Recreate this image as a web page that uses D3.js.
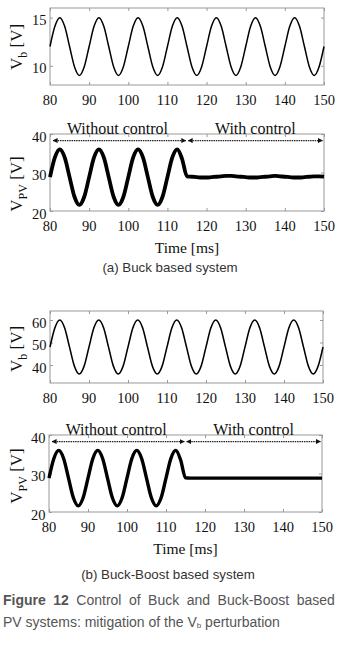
<!DOCTYPE html>
<html>
<head>
<meta charset="utf-8">
<script src="https://cdn.jsdelivr.net/npm/d3@7"></script>
<style>
  body { margin: 0; background: #fff; }
  svg { display: block; }
</style>
</head>
<body>
<div id="container"></div>
<script>
// time axis samples [ms]
const time = [
  80, 81.25, 82.5, 83.75, 85, 86.25, 87.5, 88.75,
  90, 91.25, 92.5, 93.75, 95, 96.25, 97.5, 98.75,
  100, 101.25, 102.5, 103.75, 105, 106.25, 107.5, 108.75,
  110, 111.25, 112.5, 113.75, 115, 116.25, 117.5, 118.75,
  120, 121.25, 122.5, 123.75, 125, 126.25, 127.5, 128.75,
  130, 131.25, 132.5, 133.75, 135, 136.25, 137.5, 138.75,
  140, 141.25, 142.5, 143.75, 145, 146.25, 147.5, 148.75,
  150
];

// (a) Buck: battery voltage Vb [V]
const vbBuck = [
  12, 14.1, 15, 14.1, 12, 9.9, 9, 9.9,
  12, 14.1, 15, 14.1, 12, 9.9, 9, 9.9,
  12, 14.1, 15, 14.1, 12, 9.9, 9, 9.9,
  12, 14.1, 15, 14.1, 12, 9.9, 9, 9.9,
  12, 14.1, 15, 14.1, 12, 9.9, 9, 9.9,
  12, 14.1, 15, 14.1, 12, 9.9, 9, 9.9,
  12, 14.1, 15, 14.1, 12, 9.9, 9, 9.9,
  12
];

// (a) Buck: PV voltage Vpv [V]
const vpvBuck = [
  28.8, 33.9, 36, 33.9, 28.8, 23.7, 21.6, 23.7,
  28.8, 33.9, 36, 33.9, 28.8, 23.7, 21.6, 23.7,
  28.8, 33.9, 36, 33.9, 28.8, 23.7, 21.6, 23.7,
  28.8, 33.9, 36, 33.5, 29.0, 28.9, 28.8, 28.7,
  28.7, 28.8, 28.9, 29.0, 29.1, 29.1, 29.0, 28.9,
  28.8, 28.7, 28.7, 28.8, 28.9, 29.0, 29.1, 29.0,
  28.9, 28.8, 28.7, 28.7, 28.8, 28.9, 29.0, 29.0,
  28.9
];

// (b) Buck-Boost: battery voltage Vb [V]
const vbBuckBoost = [
  48, 56.5, 60, 56.5, 48, 39.5, 36, 39.5,
  48, 56.5, 60, 56.5, 48, 39.5, 36, 39.5,
  48, 56.5, 60, 56.5, 48, 39.5, 36, 39.5,
  48, 56.5, 60, 56.5, 48, 39.5, 36, 39.5,
  48, 56.5, 60, 56.5, 48, 39.5, 36, 39.5,
  48, 56.5, 60, 56.5, 48, 39.5, 36, 39.5,
  48, 56.5, 60, 56.5, 48, 39.5, 36, 39.5,
  48
];

// (b) Buck-Boost: PV voltage Vpv [V]
const vpvBuckBoost = [
  28.8, 33.9, 36, 33.9, 28.8, 23.7, 21.6, 23.7,
  28.8, 33.9, 36, 33.9, 28.8, 23.7, 21.6, 23.7,
  28.8, 33.9, 36, 33.9, 28.8, 23.7, 21.6, 23.7,
  28.8, 33.9, 36, 33.5, 28.9, 28.8, 28.8, 28.8,
  28.8, 28.8, 28.8, 28.8, 28.8, 28.8, 28.8, 28.8,
  28.8, 28.8, 28.8, 28.8, 28.8, 28.8, 28.8, 28.8,
  28.8, 28.8, 28.8, 28.8, 28.8, 28.8, 28.8, 28.8,
  28.8
];

const xTicks = [80, 90, 100, 110, 120, 130, 140, 150];
const vbBuckTicks = [10, 15];
const vbBuckBoostTicks = [40, 50, 60];
const vpvTicks = [20, 30, 40];
const modeLabels = ["Without control", "With control"];
const modeSpans = [[80.8, 114.7], [115.3, 149.6]];

const width = 339;
const height = 648;
const serif = "'Liberation Serif', 'Times New Roman', serif";
const sans = "'Liberation Sans', Arial, sans-serif";

const svg = d3.create("svg")
  .attr("width", width)
  .attr("height", height);

const defs = svg.append("defs");
defs.append("marker")
  .attr("id", "arrow")
  .attr("viewBox", "0 0 10 10")
  .attr("refX", 9).attr("refY", 5)
  .attr("markerWidth", 5).attr("markerHeight", 5)
  .attr("markerUnits", "userSpaceOnUse")
  .attr("orient", "auto-start-reverse")
  .append("path")
  .attr("d", "M0,0L10,5L0,10z")
  .attr("fill", "#111");

function drawPanel(p) {
  const x = d3.scaleLinear().domain([80, 150]).range([p.left, p.right]);
  const y = d3.scaleLinear().domain(p.yDomain).range([p.bottom, p.top]);
  const g = svg.append("g");

  // inward ticks on all sides (matlab box style)
  const tl = 3;
  const tickCol = "#999";
  g.append("g").attr("transform", `translate(0,${p.bottom})`)
    .call(d3.axisTop(x).tickValues(xTicks).tickSize(tl).tickFormat(""))
    .call(a => a.select(".domain").remove())
    .selectAll("line").attr("stroke", tickCol);
  g.append("g").attr("transform", `translate(0,${p.top})`)
    .call(d3.axisBottom(x).tickValues(xTicks).tickSize(tl).tickFormat(""))
    .call(a => a.select(".domain").remove())
    .selectAll("line").attr("stroke", tickCol);
  g.append("g").attr("transform", `translate(${p.left},0)`)
    .call(d3.axisRight(y).tickValues(p.yTicks).tickSize(tl).tickFormat(""))
    .call(a => a.select(".domain").remove())
    .selectAll("line").attr("stroke", tickCol);
  g.append("g").attr("transform", `translate(${p.right},0)`)
    .call(d3.axisLeft(y).tickValues(p.yTicks).tickSize(tl).tickFormat(""))
    .call(a => a.select(".domain").remove())
    .selectAll("line").attr("stroke", tickCol);

  g.append("rect")
    .attr("x", p.left).attr("y", p.top)
    .attr("width", p.right - p.left).attr("height", p.bottom - p.top)
    .attr("fill", "none").attr("stroke", "#999").attr("stroke-width", 1);

  // tick labels
  g.selectAll(".xl").data(xTicks).join("text")
    .attr("x", d => x(d)).attr("y", p.bottom + 15)
    .attr("text-anchor", "middle").attr("dominant-baseline", "central")
    .attr("font-family", serif).attr("font-size", 14.5).attr("fill", "#111")
    .text(d => d);
  g.selectAll(".yl").data(p.yTicks).join("text")
    .attr("x", p.left - 3.5).attr("y", d => y(d) + 2.5)
    .attr("text-anchor", "end").attr("dominant-baseline", "central")
    .attr("font-family", serif).attr("font-size", 14.5).attr("fill", "#111")
    .text(d => d);

  // y label
  const yl = g.append("text")
    .attr("transform", `translate(22,${p.labelY}) rotate(-90)`)
    .attr("text-anchor", "middle")
    .attr("font-family", serif).attr("font-size", 17).attr("fill", "#111");
  yl.append("tspan").text("V");
  yl.append("tspan").attr("dy", 4.5).attr("font-size", 12).text(p.sub);
  yl.append("tspan").attr("dy", -4.5).text(" [V]");

  // signal
  const line = d3.line()
    .x((d, i) => x(time[i]))
    .y(d => y(d))
    .curve(d3.curveMonotoneX);
  g.append("path")
    .datum(p.values)
    .attr("d", line)
    .attr("fill", "none")
    .attr("stroke", "#000")
    .attr("stroke-width", p.lineWidth)
    .attr("stroke-linejoin", "round");

  if (p.modes) {
    g.selectAll(".ma").data(modeSpans).join("line")
      .attr("x1", d => x(d[0])).attr("x2", d => x(d[1]))
      .attr("y1", y(38.3)).attr("y2", y(38.3))
      .attr("stroke", "#222").attr("stroke-width", 1.3)
      .attr("stroke-dasharray", "1.5,0.8")
      .attr("marker-start", "url(#arrow)")
      .attr("marker-end", "url(#arrow)");
    g.selectAll(".mt").data(modeLabels).join("text")
      .attr("x", (d, i) => x((modeSpans[i][0] + modeSpans[i][1]) / 2) + (i === 0 ? -2 : 0))
      .attr("y", p.top - 6)
      .attr("text-anchor", "middle").attr("dominant-baseline", "central")
      .attr("font-family", serif).attr("font-size", 16).attr("fill", "#111")
      .text(d => d);
    g.append("text")
      .attr("x", (p.left + p.right) / 2).attr("y", p.bottom + 36)
      .attr("text-anchor", "middle").attr("dominant-baseline", "central")
      .attr("font-family", serif).attr("font-size", 15.5).attr("fill", "#111")
      .text("Time [ms]");
  }
}

drawPanel({ left: 50, right: 324, top: 8, bottom: 85, yDomain: [8, 16],
  yTicks: vbBuckTicks, values: vbBuck, lineWidth: 1.5, sub: "b", labelY: 47 });
drawPanel({ left: 50, right: 324, top: 134, bottom: 211, yDomain: [20, 40],
  yTicks: vpvTicks, values: vpvBuck, lineWidth: 3.8, sub: "PV", labelY: 184, modes: true });
drawPanel({ left: 50, right: 323, top: 311, bottom: 383, yDomain: [32, 64],
  yTicks: vbBuckBoostTicks, values: vbBuckBoost, lineWidth: 1.5, sub: "b", labelY: 349 });
drawPanel({ left: 49, right: 322, top: 435, bottom: 512, yDomain: [20, 40],
  yTicks: vpvTicks, values: vpvBuckBoost, lineWidth: 3.4, sub: "PV", labelY: 476, modes: true });

// sub-captions
svg.append("text")
  .attr("x", 170).attr("y", 267)
  .attr("text-anchor", "middle").attr("dominant-baseline", "central")
  .attr("font-family", sans).attr("font-size", 13.3).attr("fill", "#333")
  .text("(a) Buck based system");
svg.append("text")
  .attr("x", 168).attr("y", 574)
  .attr("text-anchor", "middle").attr("dominant-baseline", "central")
  .attr("font-family", sans).attr("font-size", 13.3).attr("fill", "#333")
  .text("(b) Buck-Boost based system");

// figure caption
const cap1 = svg.append("text")
  .attr("x", 3).attr("y", 600)
  .attr("dominant-baseline", "central")
  .attr("font-family", sans).attr("font-size", 14).attr("fill", "#555")
  .attr("word-spacing", 3.6);
cap1.append("tspan").attr("font-weight", "bold").text("Figure 12");
cap1.append("tspan").text(" Control of Buck and Buck-Boost based");

const cap2 = svg.append("text")
  .attr("x", 3).attr("y", 622)
  .attr("dominant-baseline", "central")
  .attr("font-family", sans).attr("font-size", 14).attr("fill", "#555");
cap2.append("tspan").text("PV systems: mitigation of the V");
cap2.append("tspan").attr("dy", 3).attr("font-size", 8).text("b");
cap2.append("tspan").attr("dy", -3).text(" perturbation");

container.append(svg.node());
</script>
</body>
</html>
